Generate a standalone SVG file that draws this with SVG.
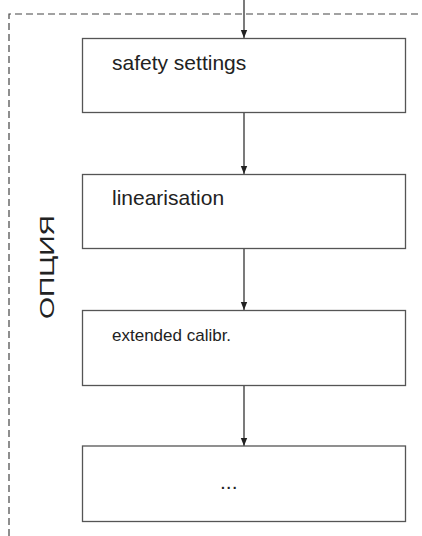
<svg xmlns="http://www.w3.org/2000/svg" width="422" height="536" viewBox="0 0 422 536">
  <style>
    .box { fill: #fff; stroke: #555; stroke-width: 1.3; }
    .lbl { font-family: "Liberation Sans", Arial, sans-serif; font-size: 21px; fill: #222; }
    .small { font-size: 17px; }
    .frame { fill: none; stroke: #444; stroke-width: 1.2; stroke-dasharray: 7 4; }
    .link { stroke: #222; stroke-width: 1.2; fill: none; marker-end: url(#arrow); }
  </style>
  <defs>
    <marker id="arrow" viewBox="0 0 10 10" refX="10" refY="5" markerWidth="9" markerHeight="8" markerUnits="userSpaceOnUse" orient="auto">
      <path d="M0,1 L10,5 L0,9 z" fill="#222"/>
    </marker>
  </defs>
  <rect width="422" height="536" fill="#fff"/>

  <!-- optional section frame -->
  <g id="option-frame">
    <path class="frame" d="M9,536 V14 H422"/>
    <text class="lbl" x="0" y="0" transform="translate(54,319) rotate(-90)" textLength="104" lengthAdjust="spacingAndGlyphs">ОПЦИЯ</text>
  </g>

  <g id="connectors">
    <line class="link" x1="244" y1="0" x2="244" y2="38"/>
    <line class="link" x1="244" y1="113" x2="244" y2="174"/>
    <line class="link" x1="244" y1="249" x2="244" y2="310"/>
    <line class="link" x1="244" y1="386" x2="244" y2="446"/>
  </g>

  <g id="safety-settings">
    <rect class="box" x="82.5" y="38.5" width="323" height="74"/>
    <text class="lbl" x="112" y="70">safety settings</text>
  </g>
  <g id="linearisation">
    <rect class="box" x="82.5" y="174.5" width="323" height="74"/>
    <text class="lbl" x="112" y="205">linearisation</text>
  </g>
  <g id="extended-calibr">
    <rect class="box" x="82.5" y="310.5" width="323" height="75"/>
    <text class="lbl small" x="112" y="341">extended calibr.</text>
  </g>
  <g id="more">
    <rect class="box" x="82.5" y="446" width="323" height="75.5"/>
    <text class="lbl" x="220" y="489">...</text>
  </g>
</svg>
